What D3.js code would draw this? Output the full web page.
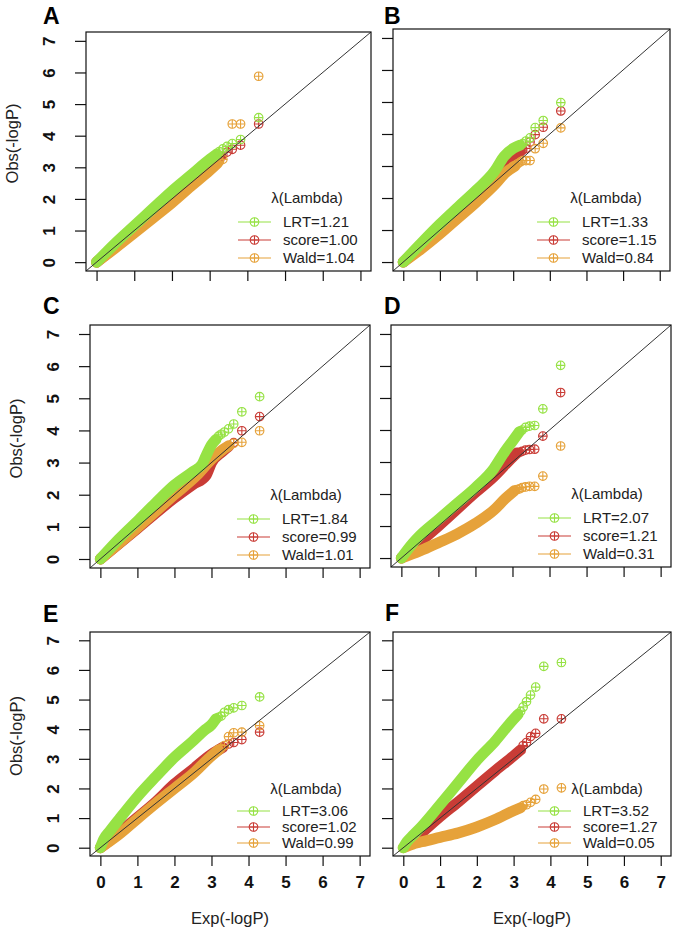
<!DOCTYPE html>
<html>
<head>
<meta charset="utf-8">
<script src="https://cdn.jsdelivr.net/npm/d3@7"></script>
<style>
body { margin: 0; background: #fff; }
svg { display: block; font-family: "Liberation Sans", Arial, sans-serif; }
</style>
</head>
<body>
<svg width="677" height="933"></svg>
<script>

// panel letters, series names and lambda values (LRT, score, Wald)
var panelNames = ["A", "B", "C", "D", "E", "F"];
var seriesNames = ["LRT", "score", "Wald"];
var lambdas = [
  [1.21, 1.00, 1.04],
  [1.33, 1.15, 0.84],
  [1.84, 0.99, 1.01],
  [2.07, 1.21, 0.31],
  [3.06, 1.02, 0.99],
  [3.52, 1.27, 0.05]
];
var ticks = [0, 1, 2, 3, 4, 5, 6, 7];

// dense part of each QQ curve [exp, obs], read along the middle of the band
// and the sparse tail points at the top
var lrtBandA = [[0,0],[0.5,0.6],[1,1.15],[1.5,1.7],[2,2.25],[2.5,2.75],[3,3.25],[3.19,3.42]];
var lrtTailA = [[3.26,3.5],[3.35,3.58],[3.46,3.66],[3.6,3.75],[3.82,3.88],[4.3,4.57]];
var scoreBandA = [[0,0],[1,0.98],[2,1.95],[3,2.98],[3.3,3.35]];
var scoreTailA = [[3.46,3.48],[3.6,3.57],[3.82,3.7],[4.3,4.37]];
var waldBandA = [[0,0],[0.5,0.45],[1,0.92],[1.5,1.4],[2,1.88],[2.5,2.4],[3,2.9],[3.2,3.12]];
var waldTailA = [[3.26,3.18],[3.35,3.25],[3.6,4.37],[3.82,4.37],[4.3,5.88]];

var lrtBandB = [[0,0],[0.5,0.6],[1,1.18],[1.5,1.72],[2,2.25],[2.5,2.85],[2.75,3.3],[3,3.55],[3.19,3.65]];
var lrtTailB = [[3.26,3.7],[3.35,3.78],[3.46,3.88],[3.6,4.2],[3.82,4.42],[4.3,4.98]];
var scoreBandB = [[0,0],[1,1.0],[2,2.0],[2.6,2.6],[3,3.3],[3.19,3.45]];
var scoreTailB = [[3.26,3.5],[3.35,3.55],[3.46,3.75],[3.6,3.98],[3.82,4.21],[4.3,4.72]];
var waldBandB = [[0,0],[0.5,0.42],[1,0.88],[1.5,1.38],[2,1.88],[2.5,2.42],[2.8,2.8],[3.05,3.0]];
var waldTailB = [[3.12,3.07],[3.19,3.12],[3.26,3.17],[3.35,3.17],[3.46,3.17],[3.6,3.54],[3.82,3.71],[4.3,4.19]];

var lrtBandC = [[0,0],[0.5,0.62],[1,1.18],[1.5,1.75],[2,2.3],[2.5,2.72],[2.75,2.95],[2.85,3.2],[3.0,3.55],[3.12,3.72]];
var lrtTailC = [[3.19,3.82],[3.26,3.88],[3.35,3.95],[3.46,4.05],[3.6,4.2],[3.82,4.58],[4.3,5.05]];
var scoreBandC = [[0,0],[1,0.95],[2,1.9],[2.5,2.32],[2.85,2.6],[3.0,3.0],[3.3,3.35],[3.46,3.5]];
var scoreTailC = [[3.6,3.62],[3.82,3.99],[4.3,4.43]];
var waldBandC = [[0,0],[1,0.98],[2,2.0],[2.6,2.6],[3,3.1],[3.3,3.4],[3.46,3.52]];
var waldTailC = [[3.6,3.6],[3.82,3.63],[4.3,3.99]];

var lrtBandD = [[0,0],[0.3,0.45],[0.5,0.7],[1,1.2],[1.5,1.7],[2,2.2],[2.5,2.8],[2.75,3.25],[3.0,3.65],[3.19,3.95]];
var lrtTailD = [[3.26,4.0],[3.35,4.08],[3.46,4.12],[3.6,4.14],[3.82,4.66],[4.3,6.02]];
var scoreBandD = [[0,0],[0.5,0.5],[1,1.0],[2,2.05],[2.5,2.55],[3.0,3.15],[3.12,3.28]];
var scoreTailD = [[3.19,3.3],[3.26,3.33],[3.35,3.37],[3.46,3.39],[3.6,3.4],[3.82,3.81],[4.3,5.17]];
var waldBandD = [[0,0],[0.5,0.22],[1,0.48],[1.5,0.75],[2,1.08],[2.5,1.5],[2.8,1.85],[3.05,2.1]];
var waldTailD = [[3.12,2.14],[3.19,2.16],[3.26,2.2],[3.35,2.22],[3.46,2.24],[3.6,2.24],[3.82,2.56],[4.3,3.5]];

var lrtBandE = [[0,0],[0.1,0.3],[0.25,0.55],[0.5,0.95],[1,1.72],[1.5,2.4],[2,3.05],[2.5,3.6],[2.8,3.95],[3.0,4.15],[3.12,4.35]];
var lrtTailE = [[3.19,4.4],[3.26,4.44],[3.35,4.57],[3.46,4.66],[3.6,4.72],[3.82,4.8],[4.3,5.09]];
var scoreBandE = [[0,0],[0.5,0.5],[1,1.02],[1.5,1.55],[2,2.15],[2.5,2.65],[3,3.15],[3.3,3.38]];
var scoreTailE = [[3.46,3.5],[3.6,3.55],[3.82,3.65],[4.3,3.9]];
var waldBandE = [[0,0],[0.5,0.45],[1,0.98],[1.5,1.5],[2,2.0],[2.5,2.5],[3,3.1],[3.19,3.3]];
var waldTailE = [[3.26,3.35],[3.35,3.45],[3.46,3.75],[3.6,3.88],[3.82,3.9],[4.3,4.12]];

var lrtBandF = [[0,0],[0.1,0.2],[0.25,0.4],[0.5,0.72],[1,1.45],[1.5,2.2],[2,2.95],[2.5,3.6],[2.9,4.2],[3.12,4.5]];
var lrtTailF = [[3.19,4.6],[3.26,4.75],[3.35,4.93],[3.46,5.15],[3.6,5.42],[3.82,6.12],[4.3,6.25]];
var scoreBandF = [[0.15,0.1],[0.5,0.5],[1,1.05],[1.5,1.55],[2,2.08],[2.5,2.6],[3,3.1],[3.19,3.3]];
var scoreTailF = [[3.26,3.45],[3.35,3.55],[3.46,3.75],[3.6,3.86],[3.82,4.35],[4.3,4.35]];
var waldBandF = [[0,0],[0.25,0.12],[0.5,0.2],[1,0.35],[1.5,0.5],[2,0.7],[2.5,0.95],[3,1.25],[3.19,1.35]];
var waldTailF = [[3.26,1.42],[3.35,1.45],[3.46,1.53],[3.6,1.63],[3.82,1.98],[4.3,2.02]];

// per panel curves, in series order LRT, score, Wald
var bands = [
  [lrtBandA, scoreBandA, waldBandA], [lrtBandB, scoreBandB, waldBandB],
  [lrtBandC, scoreBandC, waldBandC], [lrtBandD, scoreBandD, waldBandD],
  [lrtBandE, scoreBandE, waldBandE], [lrtBandF, scoreBandF, waldBandF]
];
var tails = [
  [lrtTailA, scoreTailA, waldTailA], [lrtTailB, scoreTailB, waldTailB],
  [lrtTailC, scoreTailC, waldTailC], [lrtTailD, scoreTailD, waldTailD],
  [lrtTailE, scoreTailE, waldTailE], [lrtTailF, scoreTailF, waldTailF]
];

var colors = ["#96e244", "#c93c36", "#e6a23a"];
var drawOrder = [1, 2, 0]; // score, then Wald, then LRT on top

// plot boxes: left, right, top, bottom
var boxes = [
  [86, 371, 32, 271], [393, 670, 29, 271],
  [90, 370, 325, 568], [391, 671, 325, 567],
  [90, 370, 632, 856], [393, 671, 632, 856]
];
// panel letter baselines: x, y
var letterPos = [[43, 24], [384, 24], [43, 314], [384, 314], [43, 622], [385, 621]];

var svg = d3.select("svg");

function plus(sel, r) {
  sel.append("circle").attr("r", r).attr("fill", "none");
  sel.append("path").attr("d", "M" + (-r) + ",0H" + r + "M0," + (-r) + "V" + r);
}

panelNames.forEach(function(name, p) {
  var b = boxes[p],
      left = b[0], right = b[1], top = b[2], bottom = b[3],
      leftCol = p % 2 == 0,
      bottomRow = p >= 4;

  var x = d3.scaleLinear().domain([-0.28, 7.28]).range([left, right]);
  var y = d3.scaleLinear().domain([-0.28, 7.28]).range([bottom, top]);

  var g = svg.append("g");

  // panel letter
  g.append("text")
    .attr("x", letterPos[p][0])
    .attr("y", letterPos[p][1])
    .attr("font-size", 23)
    .attr("font-weight", "bold")
    .text(name);

  g.append("clipPath").attr("id", "clip" + name)
    .append("rect").attr("x", left).attr("y", top)
    .attr("width", right - left).attr("height", bottom - top);

  var plot = g.append("g").attr("clip-path", "url(#clip" + name + ")");

  var line = d3.line()
    .x(function(d) { return x(d[0]); })
    .y(function(d) { return y(d[1]); })
    .curve(d3.curveMonotoneX);

  drawOrder.forEach(function(s) {
    plot.append("path")
      .attr("d", line(bands[p][s]))
      .attr("fill", "none")
      .attr("stroke", colors[s])
      .attr("stroke-width", 11)
      .attr("stroke-linecap", "round")
      .attr("stroke-linejoin", "round");

    plot.append("g")
      .selectAll("g")
      .data(tails[p][s])
      .join("g")
      .attr("transform", function(d) { return "translate(" + x(d[0]) + "," + y(d[1]) + ")"; })
      .attr("stroke", colors[s])
      .attr("stroke-width", 1.1)
      .each(function() { plus(d3.select(this), 4.3); });
  });

  // y = x reference line
  plot.append("line")
    .attr("x1", x(-0.28)).attr("y1", y(-0.28))
    .attr("x2", x(7.28)).attr("y2", y(7.28))
    .attr("stroke", "#333")
    .attr("stroke-width", 1);

  // box
  g.append("rect")
    .attr("x", left).attr("y", top)
    .attr("width", right - left).attr("height", bottom - top)
    .attr("fill", "none").attr("stroke", "#111").attr("stroke-width", 1.2);

  // axes
  var xAxis = g.append("g")
    .attr("transform", "translate(0," + bottom + ")")
    .call(d3.axisBottom(x).tickValues(ticks).tickSize(10).tickPadding(10)
      .tickFormat(bottomRow ? d3.format("d") : function() { return ""; }));
  xAxis.select(".domain").remove();
  xAxis.selectAll("line").attr("stroke", "#111").attr("stroke-width", 1.2);
  xAxis.selectAll("text")
    .attr("font-size", 17).attr("font-weight", "bold").attr("fill", "#111")
    .attr("font-family", "Liberation Sans, Arial, sans-serif");

  var yAxis = g.append("g")
    .attr("transform", "translate(" + left + ",0)")
    .call(d3.axisLeft(y).tickValues(ticks).tickSize(11)
      .tickFormat(leftCol ? d3.format("d") : function() { return ""; }));
  yAxis.select(".domain").remove();
  yAxis.selectAll("line").attr("stroke", "#111").attr("stroke-width", 1.2);
  yAxis.selectAll("text")
    .attr("x", null).attr("dy", null)
    .attr("transform", "translate(-37,0) rotate(-90)")
    .attr("text-anchor", "middle")
    .attr("dominant-baseline", "central")
    .attr("font-size", 17).attr("font-weight", "bold").attr("fill", "#111")
    .attr("font-family", "Liberation Sans, Arial, sans-serif");

  if (leftCol) {
    g.append("text")
      .attr("transform", "translate(" + (left - 68) + "," + ((top + bottom) / 2 - 8) + ") rotate(-90)")
      .attr("text-anchor", "middle")
      .attr("font-size", 16.5)
      .attr("fill", "#222")
      .text("Obs(-logP)");
  }
  if (bottomRow) {
    g.append("text")
      .attr("x", (left + right) / 2)
      .attr("y", 924)
      .attr("text-anchor", "middle")
      .attr("font-size", 16.5)
      .attr("fill", "#222")
      .text("Exp(-logP)");
  }

  // legend (no frame)
  var rowGap = bottomRow ? 16 : 18;
  var lg = g.append("g").attr("font-size", 15).attr("fill", "#222");
  lg.append("text")
    .attr("x", right - 64)
    .attr("y", bottom - 13 - rowGap * 3 - 1)
    .attr("text-anchor", "middle")
    .text("\u03bb(Lambda)");
  seriesNames.forEach(function(sn, s) {
    var ly = bottom - 13 - rowGap * (2 - s);
    lg.append("line")
      .attr("x1", right - 133).attr("x2", right - 100)
      .attr("y1", ly).attr("y2", ly)
      .attr("stroke", colors[s]).attr("stroke-width", 1.2);
    lg.append("g")
      .attr("transform", "translate(" + (right - 116.5) + "," + ly + ")")
      .attr("stroke", colors[s]).attr("stroke-width", 1.1)
      .call(plus, 4.3);
    lg.append("text")
      .attr("x", right - 88)
      .attr("y", ly)
      .attr("dy", "0.35em")
      .text(sn + "=" + d3.format(".2f")(lambdas[p][s]));
  });
});

</script>
</body>
</html>
